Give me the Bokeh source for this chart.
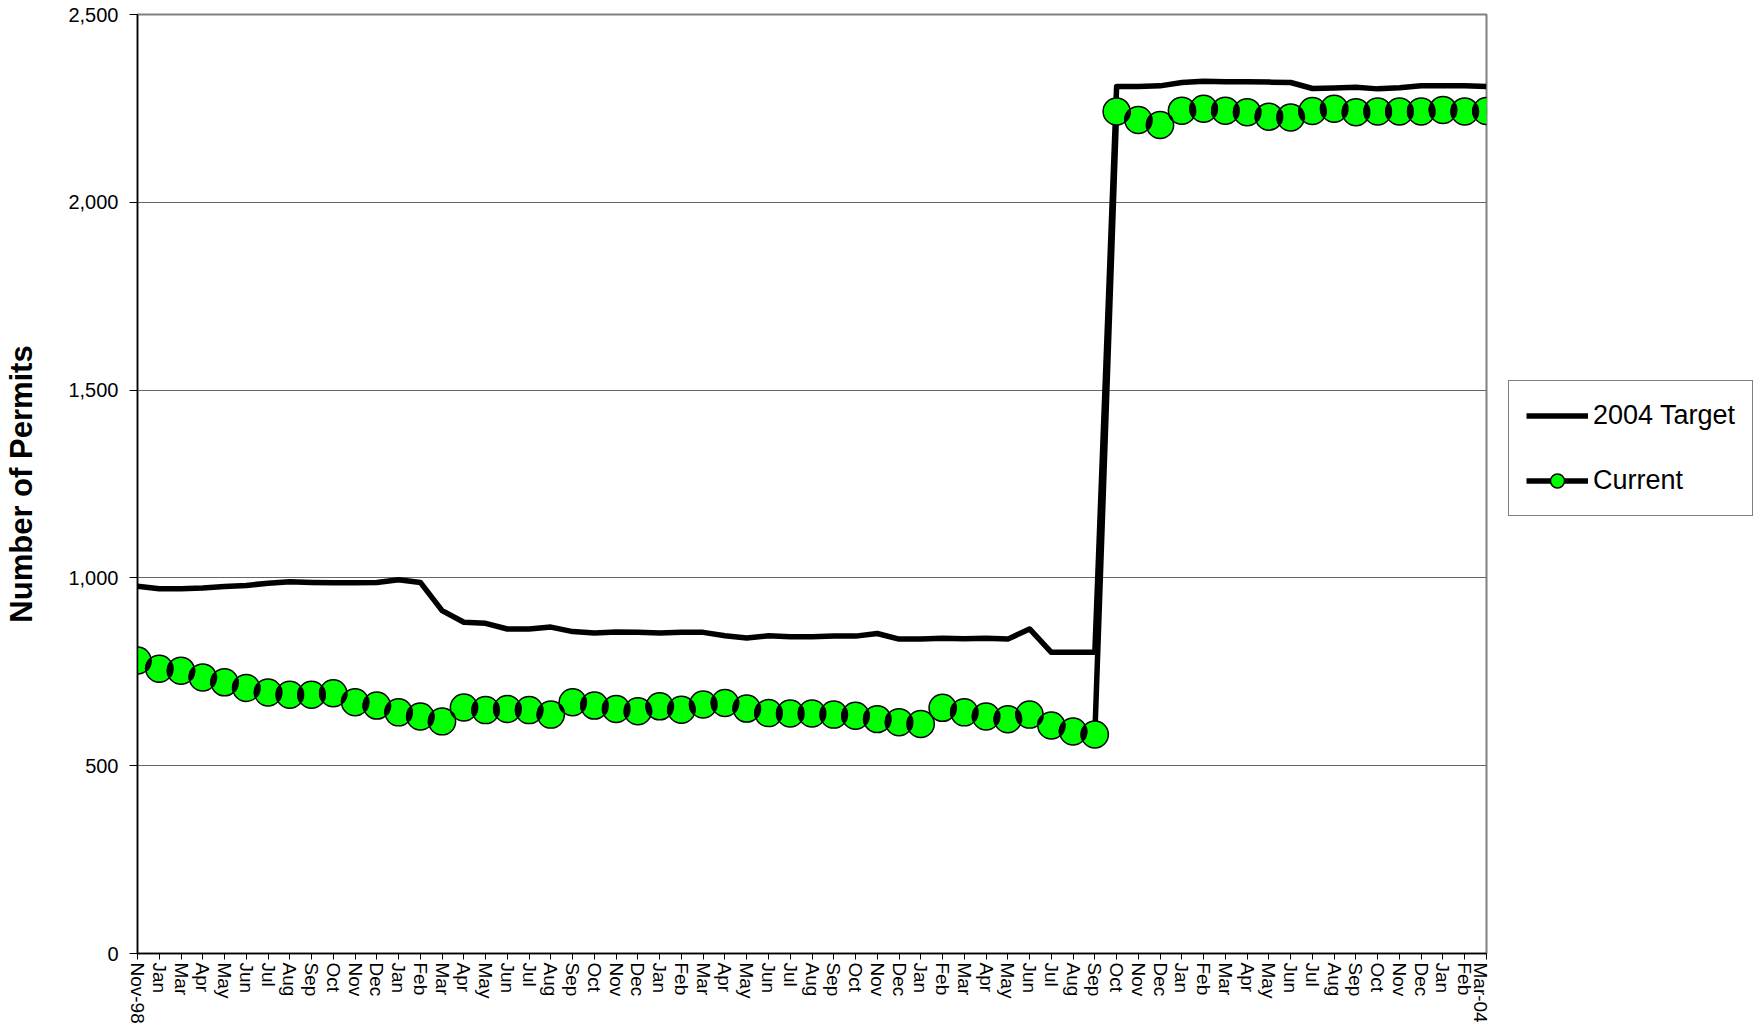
import math
from bokeh.plotting import figure
from bokeh.layouts import row
from bokeh.models import Range1d, FixedTicker, NumeralTickFormatter, Legend, LegendItem, ColumnDataSource
from bokeh.embed import file_html
from bokeh.resources import INLINE

# ---- data ----
month_labels = ["Nov-98", "Jan", "Mar", "Apr", "May", "Jun", "Jul", "Aug", "Sep", "Oct", "Nov", "Dec",
                "Jan", "Feb", "Mar", "Apr", "May", "Jun", "Jul", "Aug", "Sep", "Oct", "Nov", "Dec",
                "Jan", "Feb", "Mar", "Apr", "May", "Jun", "Jul", "Aug", "Sep", "Oct", "Nov", "Dec",
                "Jan", "Feb", "Mar", "Apr", "May", "Jun", "Jul", "Aug", "Sep", "Oct", "Nov", "Dec",
                "Jan", "Feb", "Mar", "Apr", "May", "Jun", "Jul", "Aug", "Sep", "Oct", "Nov", "Dec",
                "Jan", "Feb", "Mar-04"]

target_2004 = [978, 971, 971, 973, 977, 980, 986, 990, 988, 987, 987, 988,
               995, 988, 913, 882, 879, 864, 864, 869, 857, 853, 856, 855,
               853, 855, 855, 846, 840, 846, 843, 843, 845, 845, 852, 837,
               837, 839, 838, 839, 837, 864, 802, 802, 802, 2308, 2308, 2310,
               2319, 2322, 2321, 2321, 2320, 2319, 2303, 2304, 2306, 2302, 2305, 2310,
               2310, 2310, 2308]

current = [780, 758, 753, 735, 722, 707, 695, 689, 689, 693, 669, 660,
           642, 631, 618, 655, 648, 651, 648, 636, 669, 660, 651, 645,
           658, 649, 663, 667, 652, 640, 639, 639, 636, 633, 624, 616,
           611, 654, 642, 631, 624, 636, 607, 591, 583, 2242, 2219, 2206,
           2244, 2249, 2244, 2240, 2228, 2226, 2243, 2249, 2240, 2242, 2242, 2242,
           2246, 2242, 2243]

y_ticks = [0, 500, 1000, 1500, 2000, 2500]

FONT = "Liberation Sans"
H = 1026
W_MAIN, W_LEG = 1490, 263
BL, BR, BT, BB = 137, 4, 14, 73
MARKER = 27
LINE_W = 5.5

xs = list(range(len(month_labels)))

p = figure(width=W_MAIN, height=H, output_backend="svg", toolbar_location=None,
           x_range=Range1d(0, len(month_labels) - 1), y_range=Range1d(y_ticks[0], y_ticks[-1]),
           min_border_left=BL, min_border_right=BR, min_border_top=BT, min_border_bottom=BB)
p.background_fill_color = "white"
p.border_fill_color = "white"
p.outline_line_color = "#808080"
p.outline_line_width = 2

# axes
p.xaxis.ticker = FixedTicker(ticks=xs)
p.xaxis.major_label_overrides = {i: lab for i, lab in enumerate(month_labels)}
p.xaxis.major_label_orientation = "vertical"
p.xaxis.major_label_text_font = FONT
p.xaxis.major_label_text_font_size = "19px"
p.xaxis.major_label_text_color = "black"
p.xaxis.major_tick_in = 0
p.xaxis.major_tick_out = 6
p.xaxis.minor_tick_line_color = None
p.xaxis.major_label_standoff = 3
p.xaxis.axis_line_color = "black"
p.xaxis.axis_line_width = 1.5

p.yaxis.ticker = FixedTicker(ticks=y_ticks)
p.yaxis.formatter = NumeralTickFormatter(format="0,0")
p.yaxis.major_label_text_font = FONT
p.yaxis.major_label_text_font_size = "20px"
p.yaxis.major_label_text_color = "black"
p.yaxis.major_tick_in = 0
p.yaxis.major_tick_out = 8
p.yaxis.minor_tick_line_color = None
p.yaxis.major_label_standoff = 11
p.yaxis.axis_line_color = "black"
p.yaxis.axis_line_width = 1.5
p.yaxis.axis_label = "Number of Permits"
p.yaxis.axis_label_text_font = FONT
p.yaxis.axis_label_text_font_size = "31px"
p.yaxis.axis_label_text_font_style = "bold"
p.yaxis.axis_label_text_color = "black"
p.yaxis.axis_label_standoff = 26

p.xgrid.visible = False
p.ygrid.grid_line_color = "#666666"
p.ygrid.grid_line_width = 1

# series
src = ColumnDataSource(dict(x=xs, target=target_2004, current=current))
l1 = p.line("x", "target", source=src, line_color="black", line_width=LINE_W, line_join="round")
l2 = p.line("x", "current", source=src, line_color="black", line_width=LINE_W, line_join="round")
s2 = p.scatter("x", "current", source=src, size=MARKER, marker="circle",
               fill_color="#00ff00", line_color="black", line_width=1.5)

# dark overlap lenses between neighbouring markers (as in the original rendering)
fw = W_MAIN - BL - BR
fh = H - BT - BB
px_x = fw / (len(month_labels) - 1)
px_y = fh / (y_ticks[-1] - y_ticks[0])
lx, ly, lw, lh, la = [], [], [], [], []
for i in range(len(current) - 1):
    dx = px_x
    dy = (current[i + 1] - current[i]) * px_y
    d = math.hypot(dx, dy)
    if d < MARKER:
        lx.append(i + 0.5)
        ly.append((current[i] + current[i + 1]) / 2)
        lw.append(MARKER - d + 2)
        lh.append(2 * math.sqrt((MARKER / 2) ** 2 - (d / 2) ** 2))
        la.append(math.atan2(dy, dx))
lens = ColumnDataSource(dict(x=lx, y=ly, w=lw, h=lh, a=la))
p.ellipse(x="x", y="y", width="w", height="h", angle="a", source=lens,
          width_units="screen", height_units="screen", fill_color="black", line_color=None)

# ---- legend panel (separate figure to the right of the plot area) ----
pl = figure(width=W_LEG, height=H, output_backend="svg", toolbar_location=None,
            x_range=Range1d(0, 1), y_range=Range1d(0, 1), min_border=0)
pl.axis.visible = False
pl.grid.visible = False
pl.outline_line_color = None
pl.background_fill_color = "white"
pl.border_fill_color = "white"
# legend proxies: first data value of each series, which lies outside this panel's range
proxy = ColumnDataSource(dict(x=[xs[0]], t=[target_2004[0]], c=[current[0]]))
g1 = pl.line("x", "t", source=proxy, line_color="black", line_width=LINE_W)
g2 = pl.line("x", "c", source=proxy, line_color="black", line_width=LINE_W)
g3 = pl.scatter("x", "c", source=proxy, size=MARKER, marker="circle",
                fill_color="#00ff00", line_color="black", line_width=1.5)

legend = Legend(items=[LegendItem(label="2004 Target", renderers=[g1]),
                       LegendItem(label="Current", renderers=[g2, g3])],
                location=(18, 437))
legend.margin = 0
legend.padding = 17
legend.spacing = 30
legend.glyph_width = 62
legend.glyph_height = 35
legend.label_height = 35
legend.label_standoff = 5
legend.label_text_font = FONT
legend.label_text_font_size = "27px"
legend.label_text_color = "black"
legend.border_line_color = "black"
legend.border_line_width = 1
legend.background_fill_color = "white"
legend.background_fill_alpha = 1
pl.add_layout(legend, "center")

layout = row(p, pl)
open("out.html", "w").write(file_html(layout, INLINE))
